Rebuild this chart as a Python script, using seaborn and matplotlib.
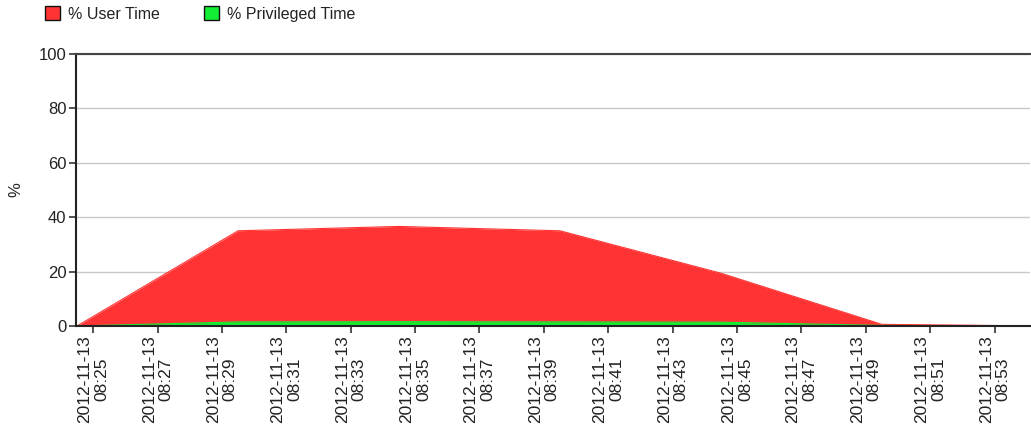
import matplotlib
matplotlib.use("Agg")
import matplotlib.pyplot as plt
import matplotlib.dates as mdates
from matplotlib.patches import Patch
import seaborn as sns
import pandas as pd

# sample times and values
times = ["2012-11-13 08:24:30", "2012-11-13 08:29:30", "2012-11-13 08:34:30",
         "2012-11-13 08:39:30", "2012-11-13 08:44:30", "2012-11-13 08:49:30",
         "2012-11-13 08:54:30"]
user_time = [0.0, 35.0, 36.6, 35.0, 19.4, 0.6, 0.0]
priv_time = [0.0, 1.5, 1.6, 1.5, 1.4, 0.2, 0.0]
series_names = ["% User Time", "% Privileged Time"]
series_colors = ["#FF3333", "#11EE33"]

df = pd.DataFrame({"time": pd.to_datetime(times),
                   series_names[0]: user_time,
                   series_names[1]: priv_time})

sns.set_theme(style="white")
plt.rcParams["font.family"] = ["Liberation Sans", "DejaVu Sans"]
plt.rcParams["text.color"] = "#222222"

fig = plt.figure(figsize=(10.31, 4.41), dpi=100)
ax = fig.add_axes([0.0737, 0.2608, 0.9253, 0.6168])

for name, col in zip(series_names, series_colors):
    ax.fill_between(df["time"], 0, df[name], color=col, lw=0, zorder=2)
    sns.lineplot(data=df, x="time", y=name, color=col, lw=0.8, ax=ax, zorder=2)

ax.set_xlim(pd.Timestamp("2012-11-13 08:24:28"), pd.Timestamp("2012-11-13 08:54:06"))
ax.set_ylim(0, 100)
ax.set_yticks(range(0, 101, 20))
ax.yaxis.grid(True, color="#C8C8C8", lw=1)
ax.set_axisbelow(True)

ax.xaxis.set_major_locator(mdates.MinuteLocator(byminute=range(1, 60, 2)))
ax.xaxis.set_major_formatter(mdates.DateFormatter("%Y-%m-%d\n%H:%M"))

ax.tick_params(axis="both", which="major", direction="out", length=5, width=1.2,
               color="#333333", labelsize=12, labelcolor="#222222", pad=2,
               bottom=True, left=True)
for lab in ax.get_xticklabels():
    lab.set_rotation(90)
    lab.set_ha("center")
    lab.set_va("top")
    lab.set_multialignment("center")
    lab.set_fontsize(12.5)
    lab.set_linespacing(1.15)

ax.set_xlabel("")
ax.set_ylabel("%", fontsize=12)
ax.yaxis.set_label_coords(-0.055, 0.5)

for side in ["left", "bottom", "top"]:
    ax.spines[side].set_visible(True)
    ax.spines[side].set_color("#222222")
    ax.spines[side].set_linewidth(1.5)
ax.spines["top"].set_color("#444444")
ax.spines["right"].set_visible(False)

handles = [Patch(facecolor=c, edgecolor="#111111", lw=1) for c in series_colors]
fig.legend(handles, series_names, loc="upper left", bbox_to_anchor=(0.030, 1.018),
           ncol=2, frameon=False, fontsize=11.5, handlelength=0.9, handleheight=0.9,
           handletextpad=0.5, columnspacing=2.8)

fig.savefig("out.png", dpi=100)
